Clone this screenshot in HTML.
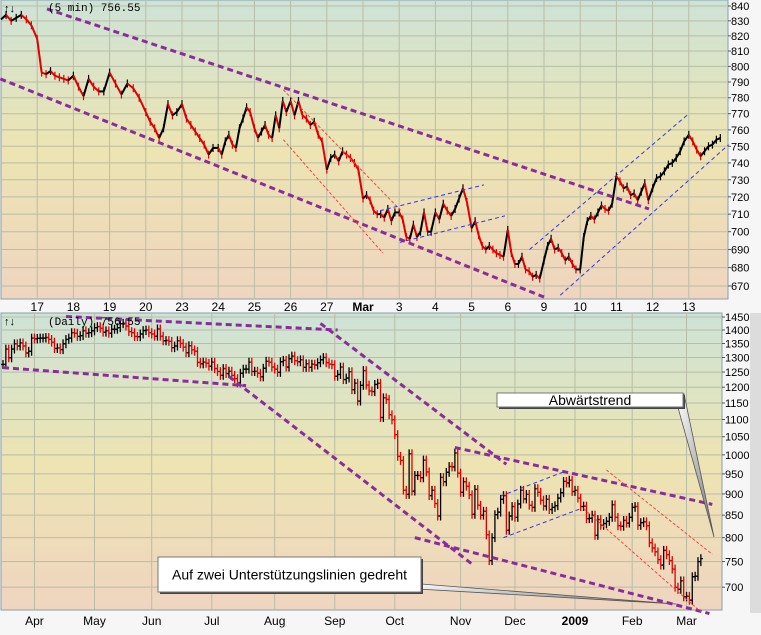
<!DOCTYPE html>
<html><head><meta charset="utf-8"><style>
html,body{margin:0;padding:0;background:#f6f6f6;}
svg{display:block;font-family:"Liberation Sans",sans-serif;}
</style></head><body>
<svg id="chart" width="761" height="635" viewBox="0 0 761 635" xmlns="http://www.w3.org/2000/svg">
<defs>
<linearGradient id="bgTop" x1="0" y1="0" x2="0" y2="1">
<stop offset="0" stop-color="#cde3d7"/><stop offset="0.5" stop-color="#ede4b2"/><stop offset="1" stop-color="#efd5c0"/>
</linearGradient>
<linearGradient id="bgBot" x1="0" y1="0" x2="0" y2="1">
<stop offset="0" stop-color="#cde3d7"/><stop offset="0.5" stop-color="#ede4b2"/><stop offset="1" stop-color="#efd5c0"/>
</linearGradient>
<linearGradient id="ptr" x1="0" y1="0" x2="1" y2="1">
<stop offset="0" stop-color="#ffffff"/><stop offset="1" stop-color="#777"/>
</linearGradient>
</defs>
<rect x="0" y="0" width="761" height="635" fill="#f6f6f6"/>
<rect x="750" y="313" width="11" height="300" fill="#dcdcdc"/>
<g id="topPanel"></g>
<g id="botPanel"></g>
</svg>
<script>
const dayLabels = ["","17","18","19","20","23","24","25","26","27","Mar","3","4","5","6","9","10","11","12","13"];
const intraday = [
[831,834,830,832,834,831,827],
[818,796,795,797,794,793,792,791],
[794,787,781,792,787,784,784],
[796,789,782,789,786,780],
[771,765,761,755,761,776,769,771],
[776,767,763,759,755,751,745,749],
[749,745,753,757,751,749,761,767,774,771],
[761,755,759,763,757,755,769,761,778,771],
[778,769,778,769,767,763,765,757,753],
[736,743,745,741,747,745,743,740,736],
[719,721,718,712,710,710,708,713,706,711],
[711,707,697,696,704,697,700,711,700,700],
[711,707,716,712,709,713,719,725,717],
[702,706,698,692,690,692,690,688,687,686],
[701,688,682,682,686,679,678,675,676,674],
[684,692,696,690,691,688,684,686,682,679],
[679,697,706,709,707,711,715,713,712,716],
[732,729,725,726,721,722,718,723,728,718],
[725,731,732,735,739,740,743,747,753],
[757,753,748,744,747,750,751,754,755]
];
const topTicks = [840,830,820,810,800,790,780,770,760,750,740,730,720,710,700,690,680,670];
const topPurple = [[1.27,838,17.9,713],[-0.02,792,15.0,664]];
const topRed = [[7.8,785,11.05,712],[7.8,754,10.55,688]];
const topBlue = [[10.47,712,13.34,727],[11.02,694,13.92,709],[14.6,690,19.0,770],[15.45,665,20.1,751]];

const dailyClose = [
1276,1330,1299,1330,1349,1341,1352,1341,1316,1322,
1370,1367,1369,1370,1370,1372,1365,1355,1332,1334,1328,1349,1365,1370,1390,1388,1376,1379,1397,1388,1390,1397,
1409,1413,1407,1392,1397,1388,1403,1403,1409,1424,1426,1415,1394,1390,1376,1375,1385,1398,1400,1390,
1385,1377,1404,1377,1360,1361,1358,1335,1341,1360,1350,1337,1317,1342,1327,1322,1283,1278,1284,1280,1270,
1284,1262,1252,1239,1262,1245,1253,1239,1228,1214,1246,1260,1260,1284,1252,1253,1246,1234,1263,1287,1284,1267,
1260,1249,1285,1290,1267,1296,1305,1289,1285,1292,1266,1278,1266,1277,1274,1282,1292,1300,1282,1277,1275,
1236,1242,1267,1225,1230,1251,1192,1213,1156,1206,1255,1207,1188,1186,1209,1213,1106,1166,1161,1114,1099,
1056,996,985,909,899,1003,907,946,946,940,986,955,896,909,877,848,941,930,954,969,968,1005,952,
904,930,919,898,852,911,873,850,859,806,752,800,851,857,887,896,816,848,870,
845,876,909,888,899,873,868,913,904,885,871,887,863,868,872,890,903,931,927,934,
906,909,890,870,871,842,843,850,805,840,827,831,836,845,874,845,826,825,838,
832,845,868,870,827,833,835,826,789,778,770,754,743,773,764,752,735,700,696,
712,682,683,676,720,721,750,756
];
const monthLabels = ["Apr","May","Jun","Jul","Aug","Sep","Oct","Nov","Dec","2009","Feb","Mar"];
const monthStartIdx = [11,32,52,73,95,116,137,160,179,200,220,239];
const botTicks = [1450,1400,1350,1300,1250,1200,1150,1100,1050,1000,950,900,850,800,750,700];
const botPurple = [[22,1452,117,1400],[0,1265,85,1205],[79,1235,164,745],[111,1425,176,975],[158,1020,248,875],[144,800,247,652]];
const botRed = [[211,960,248,765],[203,865,244,655]];
const botBlue = [[174,895,196,955],[175,800,202,865]];

const NS="http://www.w3.org/2000/svg";
function mk(tag,attrs,parent){const e=document.createElementNS(NS,tag);for(const k in attrs)e.setAttribute(k,attrs[k]);parent.appendChild(e);return e;}

const TL=1, TR=728, TT=0, TB=299;
const topX = d => 1 + d*36.2;
const topY = v => 6 + 1238*Math.log(840/v);
const BL=1, BR=722, BT=313, BB=610;
const botX = i => 3 + i*2.86;
const botY = v => 317 + 371*Math.log(1450/v);

const topG=document.getElementById('topPanel');
let r=mk('rect',{x:TL,y:TT,width:TR-TL,height:TB-TT,fill:'url(#bgTop)',stroke:'#8aa0a8'},topG);


topTicks.forEach(v=>{
  const y=topY(v);
  let g=mk('line',{x1:TL,x2:TR,y1:y,y2:y,stroke:'#b9bda6','stroke-width':1},topG);
  
  
  let tk=mk('line',{x1:TR,x2:TR+3,y1:y,y2:y,stroke:'#555'},topG);
  
  
  let t=mk('text',{x:TR+3,y:y+4,'font-size':11,fill:'#000'},topG);
  t.textContent=v;
  
  
});
dayLabels.forEach((lab,d)=>{
  if(d===0)return;
  const x=topX(d);
  let g=mk('line',{x1:x,x2:x,y1:TT,y2:TB,stroke:'#b9bda6'},topG);
  
  
  let t=mk('text',{x:x,y:311,'font-size':12,'text-anchor':'middle',fill:'#000','font-weight':lab==='Mar'?'bold':'normal'},topG);
  t.textContent=lab;
  
  
});
let prev=null;
intraday.forEach((day,d)=>{
  day.forEach((v,k)=>{
    const x=topX(d+k/day.length*0.98), y=topY(v);
    if(prev){
      const up=v>=prev[2];
      let s=mk('line',{x1:prev[0],y1:prev[1],x2:x,y2:y,stroke:up?'#000':'#e00000','stroke-width':2},topG);
      
      
      let w=mk('line',{x1:x,y1:y-4,x2:x,y2:y+4,stroke:up?'#000':'#e00000','stroke-width':1.2},topG);
      
      
    }
    prev=[x,y,v];
  });
});
function trend(parent,arr,xf,yf,color,width,dash,name){
  arr.forEach(a=>{
    let l=mk('line',{x1:xf(a[0]),y1:yf(a[1]),x2:xf(a[2]),y2:yf(a[3]),stroke:color,'stroke-width':width,'stroke-dasharray':dash},parent);
    
    
  });
}
trend(topG,topPurple,topX,topY,'#8a2d9c',3,'6 4','purple-trend-line');
trend(topG,topRed,topX,topY,'#ff4040',1,'3 2','red-channel-line');
trend(topG,topBlue,topX,topY,'#3333ee',1,'4 3','blue-channel-line');
let ic=mk('text',{x:4,y:12,'font-size':11,fill:'#000','font-weight':'bold'},topG);
ic.textContent='↑↓';


let tt=mk('text',{x:48,y:11,'font-size':11,fill:'#000','font-family':'Liberation Mono, monospace'},topG);
tt.textContent='(5 min) 756.55';



const botG=document.getElementById('botPanel');
let r2=mk('rect',{x:BL,y:BT,width:BR-BL,height:BB-BT,fill:'url(#bgBot)',stroke:'#8aa0a8'},botG);


botTicks.forEach(v=>{
  const y=botY(v);
  let g=mk('line',{x1:BL,x2:BR,y1:y,y2:y,stroke:'#b9bda6'},botG);
  
  
  let tk=mk('line',{x1:BR,x2:BR+3,y1:y,y2:y,stroke:'#555'},botG);
  
  
  let t=mk('text',{x:BR+3,y:y+4,'font-size':11,fill:'#000'},botG);
  t.textContent=v;
  
  
});
monthLabels.forEach((lab,k)=>{
  const x=botX(monthStartIdx[k]);
  let g=mk('line',{x1:x,x2:x,y1:BT,y2:BB,stroke:'#b9bda6'},botG);
  
  
  let t=mk('text',{x:x,y:625,'font-size':12,'text-anchor':'middle',fill:'#000','font-weight':lab==='2009'?'bold':'normal'},botG);
  t.textContent=lab;
  
  
});
dailyClose.forEach((c,i)=>{
  const o=i?dailyClose[i-1]:c;
  const hi=Math.max(o,c)*1.012, lo=Math.min(o,c)*0.988;
  const x=botX(i), col=c>=o?'#000':'#e00000';
  let b=mk('line',{x1:x,x2:x,y1:botY(hi),y2:botY(lo),stroke:col,'stroke-width':1.3},botG);
  
  
  let to=mk('line',{x1:x-2,x2:x,y1:botY(o),y2:botY(o),stroke:col,'stroke-width':1.3},botG);
  
  
  let tc=mk('line',{x1:x,x2:x+2,y1:botY(c),y2:botY(c),stroke:col,'stroke-width':1.3},botG);
  
  
});
trend(botG,botPurple,botX,botY,'#8a2d9c',3,'6 4','purple-trend-line');
trend(botG,botRed,botX,botY,'#ff4040',1,'3 2','red-channel-line');
trend(botG,botBlue,botX,botY,'#3333ee',1,'4 3','blue-channel-line');
let ic2=mk('text',{x:4,y:325,'font-size':11,fill:'#000','font-weight':'bold'},botG);
ic2.textContent='↑↓';


let bt=mk('text',{x:48,y:325,'font-size':11,fill:'#000','font-family':'Liberation Mono, monospace'},botG);
bt.textContent='(Daily) 756.55';



function callout(x,y,w,h,text,ptr,name){
  const g=mk('g',{},botG);
  
  
  let p=mk('polygon',{points:ptr,fill:'url(#ptr)',stroke:'#555','stroke-width':0.8},g);
  
  
  let s=mk('rect',{x:x+2,y:y+2,width:w,height:h,fill:'#444'},g);
  
  
  let b=mk('rect',{x:x,y:y,width:w,height:h,fill:'#fff',stroke:'#777'},g);
  
  
  let t=mk('text',{x:x+w/2,y:y+h/2+5,'font-size':14,'text-anchor':'middle',fill:'#000'},g);
  t.textContent=text;
  
  
}
callout(497,393,186,14,'Abwärtstrend','677,404 684,394 714,537','callout-downtrend');
callout(158,557,263,35,'Auf zwei Unterstützungslinien gedreht','400,588 421,584 676,604','callout-support');
</script>
</body></html>
